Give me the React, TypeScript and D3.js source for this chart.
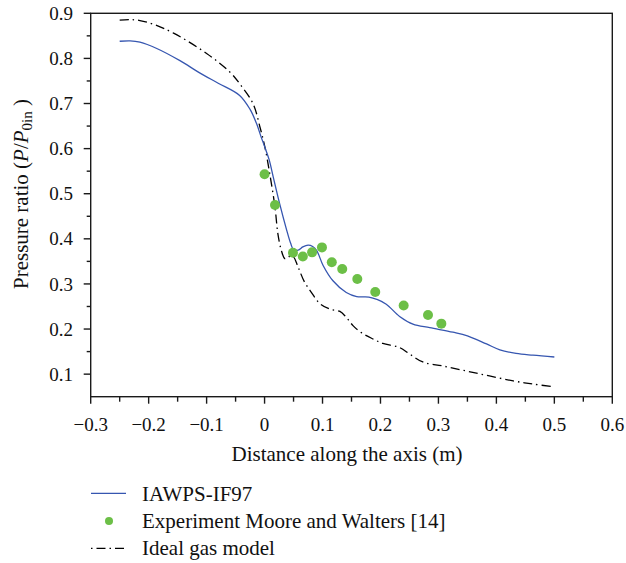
import React from "react";
import * as d3 from "d3";

// IAWPS-IF97 simulation (x in m, P/P0in)
const iawpsX = [-0.25, -0.232, -0.215, -0.186, -0.146, -0.112, -0.08, -0.043, -0.025, -0.014, -0.006, 0.0, 0.008, 0.015, 0.026, 0.038, 0.045, 0.05, 0.058, 0.066, 0.075, 0.083, 0.09, 0.101, 0.118, 0.141, 0.159, 0.18, 0.195, 0.21, 0.233, 0.256, 0.285, 0.325, 0.35, 0.383, 0.406, 0.434, 0.463, 0.5];
const iawpsY = [0.838, 0.839, 0.836, 0.822, 0.795, 0.768, 0.745, 0.718, 0.687, 0.656, 0.626, 0.605, 0.575, 0.537, 0.478, 0.42, 0.39, 0.376, 0.375, 0.382, 0.386, 0.383, 0.374, 0.341, 0.307, 0.281, 0.272, 0.271, 0.265, 0.255, 0.228, 0.211, 0.203, 0.193, 0.185, 0.167, 0.154, 0.146, 0.142, 0.138];

// Experiment Moore and Walters [14]
const expX = [0.0, 0.018, 0.049, 0.066, 0.082, 0.099, 0.116, 0.134, 0.16, 0.191, 0.24, 0.282, 0.305];
const expY = [0.543, 0.475, 0.369, 0.361, 0.37, 0.381, 0.348, 0.333, 0.311, 0.282, 0.252, 0.231, 0.212];

// Ideal gas model
const idealX = [-0.25, -0.232, -0.215, -0.19, -0.157, -0.1, -0.06, -0.043, -0.02, -0.008, 0.0005, 0.009, 0.018, 0.023, 0.029, 0.035, 0.04, 0.045, 0.05, 0.058, 0.069, 0.081, 0.095, 0.113, 0.13, 0.141, 0.153, 0.167, 0.187, 0.204, 0.233, 0.251, 0.273, 0.308, 0.348, 0.388, 0.429, 0.463, 0.5];
const idealY = [0.885, 0.886, 0.884, 0.875, 0.856, 0.811, 0.77, 0.744, 0.7, 0.648, 0.604, 0.544, 0.47, 0.411, 0.374, 0.356, 0.358, 0.363, 0.36, 0.337, 0.304, 0.281, 0.257, 0.244, 0.239, 0.226, 0.207, 0.192, 0.178, 0.168, 0.159, 0.144, 0.127, 0.118, 0.107, 0.096, 0.085, 0.078, 0.072];

const xTicks = [-0.3, -0.2, -0.1, 0, 0.1, 0.2, 0.3, 0.4, 0.5, 0.6];
const xMinor = [-0.25, -0.15, -0.05, 0.05, 0.15, 0.25, 0.35, 0.45, 0.55];
const yTicks = [0.1, 0.2, 0.3, 0.4, 0.5, 0.6, 0.7, 0.8, 0.9];
const yMinor = [0.15, 0.25, 0.35, 0.45, 0.55, 0.65, 0.75, 0.85];

const legendLabels = ["IAWPS-IF97", "Experiment Moore and Walters [14]", "Ideal gas model"];

const W = 626;
const H = 563;
const L = 90.7;
const R = 612.3;
const T = 13.3;
const B = 396.7;

const FONT = "'Liberation Serif', 'Times New Roman', serif";
const AX = "#1a1a1a";
const BLUE = "#3656b0";
const GREEN = "#6cbf47";
const DASH = "9,4,1.5,4";

function fmt(v: number) {
  if (Math.abs(v) < 1e-9) return "0";
  const s = Math.abs(v).toFixed(1);
  return (v < 0 ? "\u2212" : "") + s;
}

export default function App() {
  const x = d3.scaleLinear().domain([-0.3, 0.6]).range([L, R]);
  const y = d3.scaleLinear().domain([0.05, 0.9]).range([B, T]);

  const line = d3
    .line<[number, number]>()
    .x((d) => x(d[0]))
    .y((d) => y(d[1]))
    .curve(d3.curveCatmullRom.alpha(0.5));

  const iawps = iawpsX.map((v, i) => [v, iawpsY[i]] as [number, number]);
  const ideal = idealX.map((v, i) => [v, idealY[i]] as [number, number]);

  return (
    <svg
      width={W}
      height={H}
      viewBox={`0 0 ${W} ${H}`}
      style={{ position: "absolute", left: 0, top: 0, background: "#fff" }}
      fontFamily={FONT}
    >
      <rect x={0} y={0} width={W} height={H} fill="#fff" />

      {/* data */}
      <path d={line(ideal) || ""} fill="none" stroke="#000" strokeWidth={1.3} strokeDasharray={DASH} />
      <path d={line(iawps) || ""} fill="none" stroke={BLUE} strokeWidth={1.3} />
      {expX.map((v, i) => (
        <circle key={i} cx={x(v)} cy={y(expY[i])} r={5} fill={GREEN} />
      ))}

      {/* frame */}
      <rect x={L} y={T} width={R - L} height={B - T} fill="none" stroke={AX} strokeWidth={1.4} />

      {/* x ticks */}
      {xTicks.map((t) => (
        <g key={"xt" + t}>
          <line x1={x(t)} x2={x(t)} y1={B} y2={B + 7} stroke={AX} strokeWidth={1.4} />
          <text x={x(t)} y={431} textAnchor="middle" fontSize={19} fill="#111">
            {fmt(t)}
          </text>
        </g>
      ))}
      {xMinor.map((t) => (
        <line key={"xm" + t} x1={x(t)} x2={x(t)} y1={B} y2={B + 5} stroke={AX} strokeWidth={1.4} />
      ))}

      {/* y ticks */}
      {yTicks.map((t) => (
        <g key={"yt" + t}>
          <line x1={L - 7} x2={L} y1={y(t)} y2={y(t)} stroke={AX} strokeWidth={1.4} />
          <text x={73} y={y(t)} dy="0.35em" textAnchor="end" fontSize={19} fill="#111">
            {fmt(t)}
          </text>
        </g>
      ))}
      {yMinor.map((t) => (
        <line key={"ym" + t} x1={L - 4} x2={L} y1={y(t)} y2={y(t)} stroke={AX} strokeWidth={1.4} />
      ))}

      {/* axis titles */}
      <text x={347} y={461} textAnchor="middle" fontSize={21} fill="#111">
        Distance along the axis (m)
      </text>
      <text transform="translate(28,194) rotate(-90)" textAnchor="middle" fontSize={21} fill="#111">
        Pressure ratio (<tspan fontStyle="italic">P</tspan>/<tspan fontStyle="italic">P</tspan>
        <tspan fontSize={15} dy={4}>0in</tspan>
        <tspan dy={-4}> )</tspan>
      </text>

      {/* legend */}
      <line x1={91} x2={126} y1={493.3} y2={493.3} stroke={BLUE} strokeWidth={1.3} />
      <text x={142} y={500.5} fontSize={21} fill="#111">{legendLabels[0]}</text>
      <circle cx={109} cy={521} r={4} fill={GREEN} />
      <text x={142} y={527.5} fontSize={21} fill="#111">{legendLabels[1]}</text>
      <line x1={91} x2={128} y1={548.3} y2={548.3} stroke="#000" strokeWidth={1.3} strokeDasharray="1.5,4,9,4" />
      <text x={142} y={555} fontSize={21} fill="#111">{legendLabels[2]}</text>
    </svg>
  );
}
